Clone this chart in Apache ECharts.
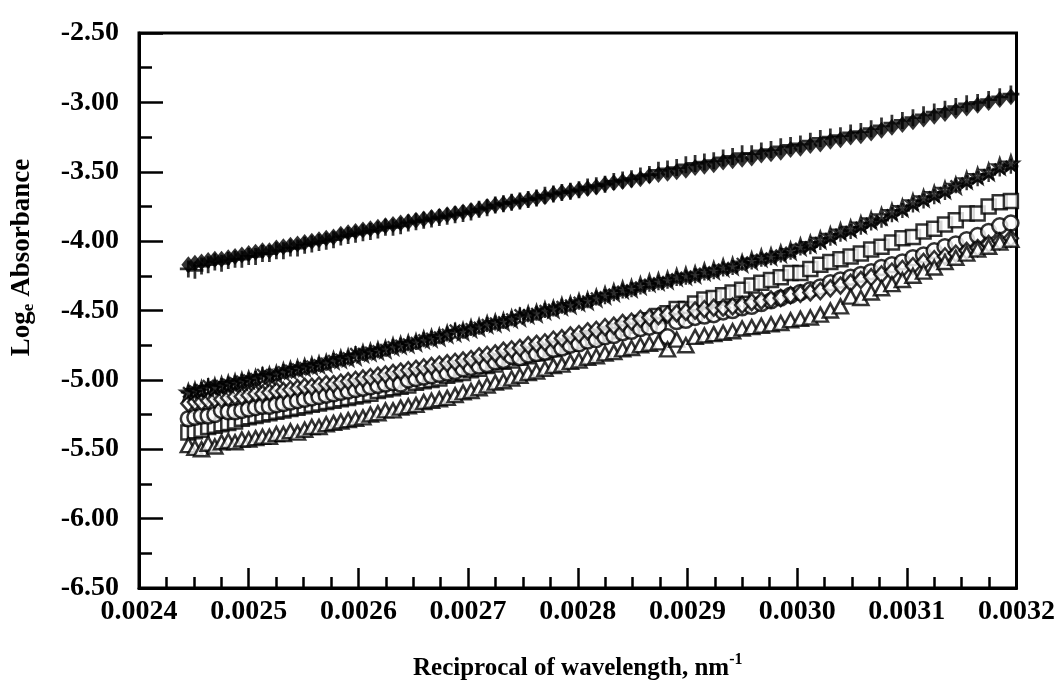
<!DOCTYPE html>
<html>
<head>
<meta charset="utf-8">
<script src="https://cdn.jsdelivr.net/npm/echarts@6/dist/echarts.min.js"></script>
<style>
  html, body { margin: 0; padding: 0; background: #fff; }
  #main { width: 1058px; height: 687px; }
</style>
</head>
<body>
<div id="main"></div>
<script>
// wavelengths (nm) of the spectra, x axis is 1/wavelength
var wavelengthNm = [
  409,408,407,406,405,404,403,402,401,400,
  399,398,397,396,395,394,393,392,391,390,
  389,388,387,386,385,384,383,382,381,380,
  379,378,377,376,375,374,373,372,371,370,
  369,368,367,366,365,364,363,362,361,360,
  359,358,357,356,355,354,353,352,351,350,
  349,348,347,346,345,344,343,342,341,340,
  339,338,337,336,335,334,333,332,331,330,
  329,328,327,326,325,324,323,322,321,320,
  319,318,317,316,315,314,313
];

// upper band
var filledDiamond = [
  -4.17,-4.16,-4.15,-4.14,-4.13,-4.13,-4.12,-4.11,-4.10,-4.09,
  -4.08,-4.07,-4.07,-4.05,-4.04,-4.03,-4.02,-4.01,-4.00,-3.99,
  -3.98,-3.97,-3.95,-3.94,-3.93,-3.92,-3.91,-3.90,-3.89,-3.88,
  -3.87,-3.86,-3.85,-3.84,-3.83,-3.82,-3.81,-3.80,-3.79,-3.78,
  -3.77,-3.75,-3.74,-3.73,-3.72,-3.71,-3.70,-3.69,-3.68,-3.66,
  -3.65,-3.64,-3.63,-3.62,-3.61,-3.59,-3.58,-3.57,-3.56,-3.55,
  -3.53,-3.52,-3.51,-3.50,-3.49,-3.47,-3.46,-3.45,-3.43,-3.42,
  -3.41,-3.40,-3.38,-3.37,-3.36,-3.34,-3.33,-3.31,-3.30,-3.28,
  -3.27,-3.25,-3.24,-3.22,-3.20,-3.18,-3.16,-3.14,-3.12,-3.10,
  -3.08,-3.06,-3.04,-3.02,-3.00,-2.98,-2.96
];
var plus = [
  -4.20,-4.21,-4.18,-4.17,-4.15,-4.16,-4.14,-4.13,-4.13,-4.11,
  -4.11,-4.09,-4.09,-4.07,-4.07,-4.05,-4.05,-4.03,-4.02,-4.01,
  -4.00,-3.99,-3.97,-3.96,-3.95,-3.94,-3.93,-3.92,-3.90,-3.90,
  -3.89,-3.87,-3.86,-3.85,-3.84,-3.83,-3.82,-3.81,-3.80,-3.79,
  -3.77,-3.76,-3.74,-3.73,-3.72,-3.71,-3.70,-3.69,-3.67,-3.66,
  -3.65,-3.64,-3.63,-3.61,-3.60,-3.59,-3.57,-3.56,-3.55,-3.53,
  -3.52,-3.49,-3.48,-3.47,-3.45,-3.44,-3.43,-3.42,-3.40,-3.39,
  -3.37,-3.37,-3.35,-3.34,-3.32,-3.31,-3.30,-3.28,-3.26,-3.25,
  -3.24,-3.22,-3.21,-3.19,-3.17,-3.15,-3.13,-3.11,-3.09,-3.07,
  -3.05,-3.03,-3.01,-3.00,-2.98,-2.96,-2.94
];

// lower band
var asterisk = [
  -5.09,-5.08,-5.07,-5.04,-5.05,-5.04,-5.03,-5.02,-5.01,-5.00,
  -4.99,-4.96,-4.97,-4.96,-4.94,-4.93,-4.92,-4.91,-4.90,-4.89,
  -4.88,-4.86,-4.85,-4.84,-4.81,-4.81,-4.80,-4.79,-4.78,-4.76,
  -4.75,-4.74,-4.73,-4.71,-4.70,-4.69,-4.67,-4.64,-4.65,-4.63,
  -4.62,-4.60,-4.59,-4.58,-4.56,-4.53,-4.53,-4.52,-4.50,-4.49,
  -4.47,-4.46,-4.44,-4.43,-4.41,-4.40,-4.38,-4.36,-4.35,-4.33,
  -4.31,-4.30,-4.29,-4.27,-4.26,-4.25,-4.23,-4.22,-4.20,-4.19,
  -4.16,-4.15,-4.13,-4.12,-4.10,-4.08,-4.05,-4.04,-4.01,-3.98,
  -3.95,-3.93,-3.90,-3.87,-3.85,-3.81,-3.78,-3.74,-3.71,-3.68,
  -3.65,-3.60,-3.58,-3.55,-3.52,-3.48,-3.46
];
var star = [
  -5.09,-5.08,-5.07,-5.06,-5.05,-5.04,-5.03,-5.02,-5.01,-5.00,
  -4.99,-4.98,-4.97,-4.96,-4.94,-4.93,-4.92,-4.91,-4.90,-4.89,
  -4.88,-4.86,-4.85,-4.84,-4.83,-4.81,-4.80,-4.79,-4.78,-4.76,
  -4.75,-4.74,-4.73,-4.71,-4.70,-4.69,-4.67,-4.66,-4.65,-4.63,
  -4.62,-4.60,-4.59,-4.58,-4.56,-4.55,-4.53,-4.52,-4.50,-4.49,
  -4.47,-4.46,-4.44,-4.43,-4.41,-4.39,-4.37,-4.35,-4.34,-4.32,
  -4.30,-4.29,-4.28,-4.26,-4.25,-4.24,-4.22,-4.21,-4.19,-4.18,
  -4.16,-4.14,-4.12,-4.11,-4.09,-4.07,-4.04,-4.02,-3.99,-3.96,
  -3.93,-3.91,-3.88,-3.85,-3.82,-3.79,-3.76,-3.72,-3.69,-3.66,
  -3.63,-3.60,-3.56,-3.53,-3.50,-3.46,-3.44
];
var square = [
  -5.38,-5.37,-5.36,-5.34,-5.33,-5.32,-5.31,-5.30,-5.28,-5.27,
  -5.26,-5.25,-5.24,-5.23,-5.22,-5.21,-5.20,-5.19,-5.18,-5.17,
  -5.16,-5.15,-5.14,-5.13,-5.12,-5.11,-5.10,-5.08,-5.07,-5.06,
  -5.05,-5.04,-5.02,-5.01,-5.00,-4.99,-4.97,-4.96,-4.95,-4.93,
  -4.92,-4.90,-4.89,-4.87,-4.86,-4.84,-4.83,-4.81,-4.80,-4.78,
  -4.76,-4.74,-4.72,-4.70,-4.69,-4.67,-4.65,-4.63,-4.61,-4.59,
  -4.57,-4.54,-4.52,-4.49,-4.49,-4.45,-4.42,-4.41,-4.39,-4.37,
  -4.35,-4.32,-4.30,-4.28,-4.26,-4.23,-4.23,-4.20,-4.17,-4.15,
  -4.13,-4.11,-4.09,-4.06,-4.04,-4.01,-3.98,-3.97,-3.93,-3.91,
  -3.88,-3.85,-3.80,-3.80,-3.75,-3.72,-3.71
];
var circle = [
  -5.28,-5.27,-5.26,-5.26,-5.25,-5.22,-5.23,-5.23,-5.22,-5.21,
  -5.20,-5.19,-5.19,-5.18,-5.17,-5.16,-5.15,-5.14,-5.13,-5.12,
  -5.11,-5.10,-5.09,-5.08,-5.07,-5.06,-5.05,-5.04,-5.03,-5.02,
  -5.03,-5.00,-4.99,-4.98,-4.97,-4.96,-4.95,-4.94,-4.92,-4.91,
  -4.90,-4.89,-4.87,-4.86,-4.83,-4.84,-4.82,-4.81,-4.80,-4.78,
  -4.77,-4.75,-4.74,-4.72,-4.71,-4.69,-4.68,-4.66,-4.65,-4.63,
  -4.62,-4.61,-4.69,-4.58,-4.57,-4.55,-4.54,-4.53,-4.51,-4.50,
  -4.48,-4.47,-4.45,-4.43,-4.41,-4.39,-4.37,-4.35,-4.33,-4.30,
  -4.28,-4.26,-4.24,-4.22,-4.19,-4.17,-4.15,-4.12,-4.10,-4.07,
  -4.04,-4.02,-3.99,-3.96,-3.93,-3.89,-3.87
];
var diamond = [
  -5.17,-5.16,-5.16,-5.15,-5.14,-5.14,-5.13,-5.12,-5.12,-5.11,
  -5.10,-5.10,-5.09,-5.08,-5.08,-5.07,-5.06,-5.05,-5.05,-5.04,
  -5.03,-5.03,-5.02,-5.01,-5.00,-4.99,-4.98,-4.97,-4.96,-4.95,
  -4.94,-4.93,-4.92,-4.91,-4.90,-4.89,-4.88,-4.87,-4.86,-4.85,
  -4.83,-4.82,-4.81,-4.79,-4.78,-4.77,-4.75,-4.74,-4.73,-4.71,
  -4.70,-4.68,-4.67,-4.65,-4.64,-4.62,-4.61,-4.59,-4.58,-4.56,
  -4.55,-4.54,-4.53,-4.52,-4.51,-4.50,-4.49,-4.48,-4.48,-4.47,
  -4.46,-4.44,-4.43,-4.42,-4.41,-4.39,-4.38,-4.37,-4.36,-4.34,
  -4.32,-4.30,-4.28,-4.26,-4.24,-4.22,-4.20,-4.18,-4.15,-4.13,
  -4.11,-4.09,-4.07,-4.05,-4.02,-4.00,-3.98
];
var triangle = [
  -5.47,-5.49,-5.50,-5.46,-5.48,-5.45,-5.44,-5.45,-5.43,-5.43,
  -5.42,-5.41,-5.41,-5.39,-5.39,-5.37,-5.38,-5.36,-5.34,-5.34,
  -5.32,-5.31,-5.30,-5.29,-5.28,-5.27,-5.25,-5.24,-5.22,-5.22,
  -5.20,-5.19,-5.18,-5.16,-5.15,-5.14,-5.13,-5.11,-5.09,-5.08,
  -5.06,-5.04,-5.02,-5.01,-4.99,-4.97,-4.95,-4.94,-4.92,-4.90,
  -4.89,-4.87,-4.86,-4.84,-4.83,-4.81,-4.80,-4.78,-4.77,-4.75,
  -4.74,-4.73,-4.78,-4.71,-4.75,-4.69,-4.68,-4.67,-4.66,-4.65,
  -4.63,-4.62,-4.61,-4.60,-4.59,-4.57,-4.56,-4.55,-4.53,-4.50,
  -4.47,-4.40,-4.41,-4.37,-4.34,-4.31,-4.28,-4.25,-4.22,-4.19,
  -4.15,-4.12,-4.09,-4.06,-4.04,-4.01,-3.99
];

var yTicks = [-6.5, -2.5, 0.5];   // min, max, step
var xTicks = [0.0024, 0.0032, 0.0001];

var FONT = '"Liberation Serif", "Times New Roman", serif';

var plusPath = 'path://M-1.3,-8L1.3,-8L1.3,-1.3L8,-1.3L8,1.3L1.3,1.3L1.3,8L-1.3,8L-1.3,1.3L-8,1.3L-8,-1.3L-1.3,-1.3Z';
var asteriskPath = 'path://M-1.6,-10L1.6,-10L1.6,10L-1.6,10Z' +
  'M-10,-1.6L10,-1.6L10,1.6L-10,1.6Z' +
  'M-8.2,-5.94L-5.94,-8.2L8.2,5.94L5.94,8.2Z' +
  'M5.94,-8.2L8.2,-5.94L-5.94,8.2L-8.2,5.94Z';
var starPath = 'path://M0,-10L2.35,-3.24L9.51,-3.09L3.8,1.24L5.88,8.09L0,4L-5.88,8.09L-3.8,1.24L-9.51,-3.09L-2.35,-3.24Z';

function pts(vals) {
  return wavelengthNm.map(function (w, i) { return [1 / w, vals[i]]; });
}

function openSeries(name, vals, symbol, size) {
  return {
    name: name, type: 'scatter', data: pts(vals),
    symbol: symbol, symbolSize: size,
    itemStyle: { color: '#fff', borderColor: '#000', borderWidth: 2.5 },
    silent: true
  };
}

function solidSeries(name, vals, symbol, size) {
  return {
    name: name, type: 'scatter', data: pts(vals),
    symbol: symbol, symbolSize: size,
    itemStyle: { color: '#000' },
    silent: true
  };
}

var chart = echarts.init(document.getElementById('main'));
var option = {
  backgroundColor: '#fff',
  animation: false,
  grid: {
    left: 139, right: 40, top: 33, bottom: 99,
    show: true, borderColor: '#000', borderWidth: 3
  },
  xAxis: {
    type: 'value',
    min: xTicks[0], max: xTicks[1], interval: xTicks[2],
    name: '{a|Reciprocal of wavelength, nm}{s|-1}',
    nameLocation: 'middle',
    nameGap: 64,
    nameTextStyle: {
      rich: {
        a: { fontFamily: FONT, fontWeight: 'bold', fontSize: 25, color: '#000' },
        s: { fontFamily: FONT, fontWeight: 'bold', fontSize: 16, color: '#000', padding: [0, 0, 18, 0] }
      }
    },
    axisLine: { onZero: false, lineStyle: { color: '#000', width: 3 } },
    axisTick: { inside: true, length: 20, lineStyle: { color: '#000', width: 2.5 } },
    minorTick: { show: true, splitNumber: 4, length: 11, lineStyle: { color: '#000', width: 2.5 } },
    splitLine: { show: false },
    axisLabel: {
      margin: 10,
      fontFamily: FONT, fontWeight: 'bold', fontSize: 28, color: '#000',
      formatter: function (v) { return v.toFixed(4); }
    }
  },
  yAxis: {
    type: 'value',
    min: yTicks[0], max: yTicks[1], interval: yTicks[2],
    name: '{a|Log}{s|e}{a| Absorbance}',
    nameLocation: 'middle',
    nameGap: 102,
    nameTextStyle: {
      padding: [0, 0, 0, 106],
      rich: {
        a: { fontFamily: FONT, fontWeight: 'bold', fontSize: 27, color: '#000' },
        s: { fontFamily: FONT, fontWeight: 'bold', fontSize: 17, color: '#000', padding: [12, 0, 0, 0] }
      }
    },
    axisLine: { onZero: false, lineStyle: { color: '#000', width: 3 } },
    axisTick: { inside: true, length: 24, lineStyle: { color: '#000', width: 2.5 } },
    minorTick: { show: true, splitNumber: 2, length: 13, lineStyle: { color: '#000', width: 2.5 } },
    splitLine: { show: false },
    axisLabel: {
      margin: 20,
      fontFamily: FONT, fontWeight: 'bold', fontSize: 28, color: '#000',
      formatter: function (v) { return v.toFixed(2); }
    }
  },
  series: [
    openSeries('square', square, 'rect', 14),
    openSeries('circle', circle, 'circle', 15),
    openSeries('diamond', diamond, 'diamond', [14, 16]),
    openSeries('triangle', triangle, 'triangle', [15, 14]),
    openSeries('star', star, starPath, 15),
    solidSeries('asterisk', asterisk, asteriskPath, 15),
    solidSeries('filledDiamond', filledDiamond, 'diamond', [14, 17]),
    solidSeries('plus', plus, plusPath, 17)
  ]
};
chart.setOption(option);
window.onresize = chart.resize;
</script>
</body>
</html>
